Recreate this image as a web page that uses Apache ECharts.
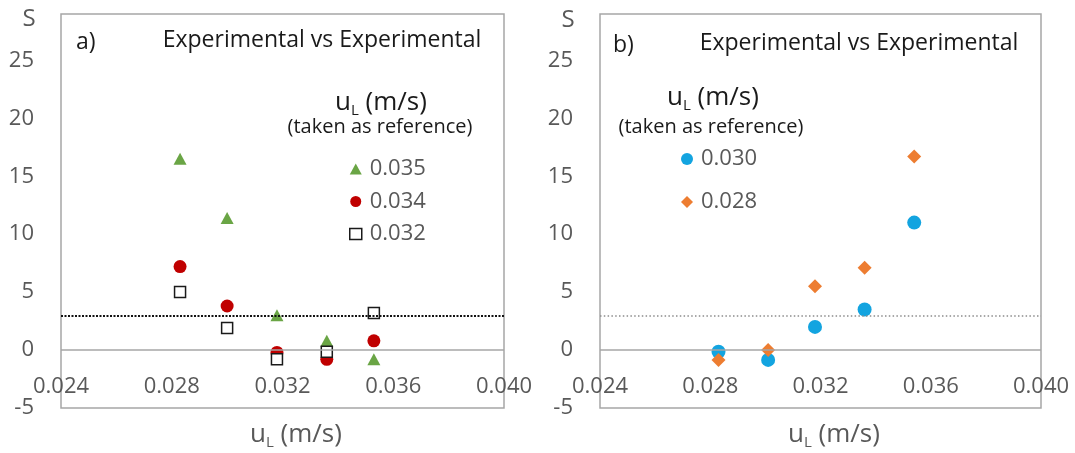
<!DOCTYPE html>
<html>
<head>
<meta charset="utf-8">
<script src="https://cdn.jsdelivr.net/npm/echarts@6/dist/echarts.min.js"></script>
<style>
  html, body { margin: 0; padding: 0; background: #fff; }
  #chart { width: 1075px; height: 453px; }
</style>
</head>
<body>
<div id="chart"></div>
<script>
// Axis ranges and ticks
const xMin = 0.024, xMax = 0.040, xStep = 0.004;
const yMin = -5, yMax = 29, yStep = 5;
const threshold = 3;

// Panel a: u_L taken as reference = 0.035 / 0.034 / 0.032
const uA = [0.0283, 0.0300, 0.0318, 0.0336, 0.0353];
const sRef035 = [16.5, 11.4, 3.0, 0.8, -0.8];
const sRef034 = [7.2, 3.8, -0.2, -0.8, 0.8];
const sRef032 = [5.0, 1.9, -0.8, -0.15, 3.2];

// Panel b: u_L taken as reference = 0.030 / 0.028
const uB = [0.0283, 0.0301, 0.0318, 0.0336, 0.0354];
const sRef030 = [-0.15, -0.85, 2.0, 3.5, 11.0];
const sRef028 = [-0.85, 0.0, 5.5, 7.1, 16.7];

const FONT = '"Open Sans", "Noto Sans", sans-serif';
const GRAY = '#595959';
const INK = '#1a1a1a';
const FRAME = '#a6a6a6';

const pairs = (xs, ys) => xs.map((x, i) => [x, ys[i]]);

function makeGrid(left, width) {
  return {
    left: left, top: 14, width: width, height: 394,
    show: true, borderColor: FRAME, borderWidth: 1.5, backgroundColor: 'transparent'
  };
}

function makeX(gridIndex) {
  return {
    type: 'value', gridIndex: gridIndex,
    min: xMin, max: xMax, interval: xStep,
    axisLine: { show: false, onZero: false },
    axisTick: { show: false },
    splitLine: { show: false },
    axisLabel: {
      inside: true, margin: 10, color: GRAY, fontSize: 22, fontFamily: FONT,
      formatter: v => v.toFixed(3)
    }
  };
}

function makeY(gridIndex) {
  return {
    type: 'value', gridIndex: gridIndex,
    min: yMin, max: yMax, interval: yStep,
    axisLine: { show: false },
    axisTick: { show: false },
    splitLine: { show: false },
    axisLabel: {
      margin: 27, color: GRAY, fontSize: 22, fontFamily: FONT,
      showMaxLabel: false,
      formatter: v => (v % 5 === 0 ? String(v) : '')
    }
  };
}

// zero line (solid gray) and S = 3 threshold (dotted)
function refLines(dotColor, dotWidth, dash) {
  return {
    silent: true, symbol: ['none', 'none'], label: { show: false },
    emphasis: { disabled: true },
    data: [
      { yAxis: 0, lineStyle: { color: FRAME, width: 1.5, type: 'solid', opacity: 1 } },
      { yAxis: threshold, lineStyle: { color: dotColor, width: dotWidth, type: dash, opacity: 1 } }
    ]
  };
}

function unitTitle(x, y, size, subSize, color) {
  return {
    type: 'text', x: x, y: y,
    style: {
      text: '{b|u}{s|L}{b| (m/s)}',
      textAlign: 'center', textVerticalAlign: 'middle',
      rich: {
        b: { fontSize: size, fontFamily: FONT, fill: color, lineHeight: size + 4 },
        s: { fontSize: subSize, fontFamily: FONT, fill: color, lineHeight: subSize, verticalAlign: 'bottom' }
      }
    }
  };
}

function plainText(text, x, y, size, color, align) {
  return {
    type: 'text', x: x, y: y,
    style: {
      text: text, fontSize: size, fontFamily: FONT, fill: color,
      textAlign: align || 'center', textVerticalAlign: 'middle'
    }
  };
}

const legendText = { color: GRAY, fontSize: 22, fontFamily: FONT, lineHeight: 21, padding: [0, 0, 0, 3] };

const chart = echarts.init(document.getElementById('chart'), null, { renderer: 'canvas' });

chart.setOption({
  animation: false,
  backgroundColor: '#ffffff',
  grid: [makeGrid(61, 443), makeGrid(600, 441)],
  xAxis: [makeX(0), makeX(1)],
  yAxis: [makeY(0), makeY(1)],
  legend: [
    {
      data: [
        { name: '0.035' },
        { name: '0.034' },
        { name: '0.032', itemStyle: { borderWidth: 1.5 } }
      ],
      orient: 'vertical', left: 349, top: 158,
      itemWidth: 12, itemHeight: 11, itemGap: 10.5, padding: 0,
      selectedMode: false, textStyle: legendText
    },
    {
      data: ['0.030', '0.028'],
      orient: 'vertical', left: 681, top: 148,
      itemWidth: 12, itemHeight: 12, itemGap: 21, padding: 0,
      selectedMode: false, textStyle: legendText
    }
  ],
  series: [
    {
      name: '0.035', type: 'scatter', xAxisIndex: 0, yAxisIndex: 0,
      symbol: 'triangle', symbolSize: [13, 12],
      itemStyle: { color: '#6aa545', opacity: 1 },
      data: pairs(uA, sRef035),
      markLine: refLines('#111111', 2, [2, 1.5])
    },
    {
      name: '0.034', type: 'scatter', xAxisIndex: 0, yAxisIndex: 0,
      symbol: 'circle', symbolSize: 13,
      itemStyle: { color: '#c00000', opacity: 1 },
      data: pairs(uA, sRef034)
    },
    {
      name: '0.032', type: 'scatter', xAxisIndex: 0, yAxisIndex: 0,
      symbol: 'rect', symbolSize: 11,
      itemStyle: { color: '#ffffff', borderColor: '#1a1a1a', borderWidth: 1.5, opacity: 1 },
      data: pairs(uA, sRef032)
    },
    {
      name: '0.030', type: 'scatter', xAxisIndex: 1, yAxisIndex: 1,
      symbol: 'circle', symbolSize: 14,
      itemStyle: { color: '#13a4e0', opacity: 1 },
      data: pairs(uB, sRef030),
      markLine: refLines('#8c8c8c', 1.5, [1.5, 2.3])
    },
    {
      name: '0.028', type: 'scatter', xAxisIndex: 1, yAxisIndex: 1,
      symbol: 'diamond', symbolSize: [14, 14],
      itemStyle: { color: '#ed7d31', opacity: 1 },
      data: pairs(uB, sRef028)
    }
  ],
  graphic: [
    // panel a annotations
    plainText('S', 29, 19, 24, GRAY),
    plainText('a)', 76, 42, 23, INK, 'left'),
    plainText('Experimental vs Experimental', 322, 40, 23, INK),
    unitTitle(381, 103, 26, 15, INK),
    plainText('(taken as reference)', 380, 127, 20, INK),
    unitTitle(296, 435, 26, 15, GRAY),
    // panel b annotations
    plainText('S', 568, 20, 24, GRAY),
    plainText('b)', 613, 45, 23, INK, 'left'),
    plainText('Experimental vs Experimental', 859, 43, 23, INK),
    unitTitle(713, 98, 26, 15, INK),
    plainText('(taken as reference)', 711, 127, 20, INK),
    unitTitle(834, 435, 26, 15, GRAY)
  ]
});
</script>
</body>
</html>
